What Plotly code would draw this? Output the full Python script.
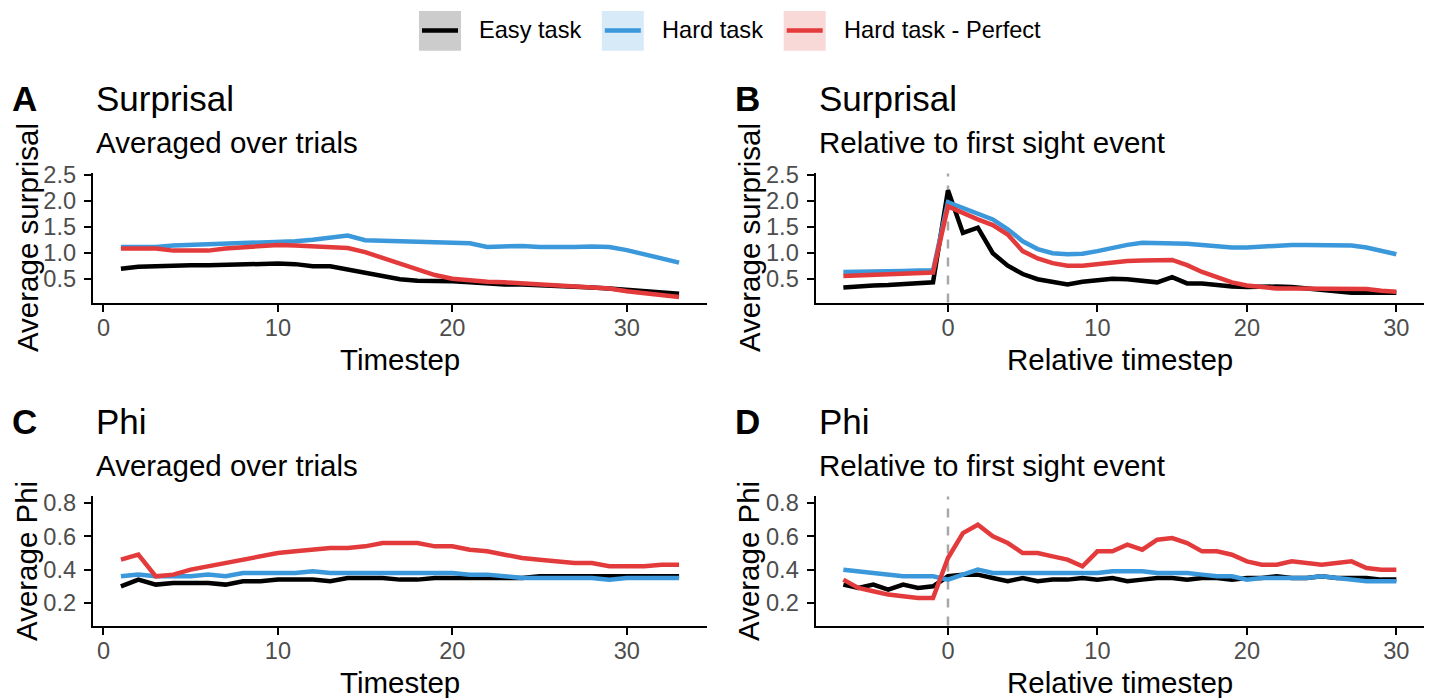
import plotly.graph_objects as go

# ---------------- data ----------------
series_names = ["Easy task", "Hard task", "Hard task - Perfect"]
series_colors = ["#000000", "#3A98DB", "#E33B3B"]
legend_key_fill = ["#CCCCCC", "#D7EAF8", "#F9D8D8"]

timestep = list(range(1, 34))
rel_timestep = list(range(-7, 31))

# Panel A: surprisal averaged over trials
surprisal_avg_easy = [0.70, 0.74, 0.75, 0.77, 0.77, 0.77, 0.78, 0.80, 0.81, 0.80,
                      0.79, 0.75, 0.75, 0.69, 0.63, 0.56, 0.50, 0.47, 0.47, 0.46,
                      0.44, 0.41, 0.40, 0.40, 0.39, 0.37, 0.36, 0.34, 0.32, 0.29,
                      0.27, 0.25, 0.22]
surprisal_avg_hard = [1.12, 1.12, 1.12, 1.15, 1.16, 1.16, 1.17, 1.18, 1.19, 1.21,
                      1.23, 1.26, 1.29, 1.34, 1.25, 1.24, 1.23, 1.21, 1.20, 1.18,
                      1.19, 1.12, 1.14, 1.14, 1.12, 1.11, 1.12, 1.13, 1.12, 1.06,
                      0.98, 0.90, 0.82]
surprisal_avg_perfect = [1.09, 1.09, 1.09, 1.05, 1.05, 1.05, 1.09, 1.12, 1.14, 1.16,
                         1.15, 1.14, 1.12, 1.10, 1.02, 0.91, 0.79, 0.68, 0.58, 0.51,
                         0.47, 0.45, 0.44, 0.42, 0.41, 0.40, 0.37, 0.35, 0.32, 0.27,
                         0.23, 0.19, 0.16]

# Panel B: surprisal relative to first sight event
surprisal_rel_easy = [0.34, 0.37, 0.38, 0.39, 0.41, 0.42, 0.44,
                      2.21, 1.39, 1.49, 1.00, 0.76, 0.60, 0.50, 0.45, 0.40, 0.45, 0.49,
                      0.51, 0.50, 0.46, 0.44, 0.54, 0.42, 0.42, 0.38, 0.36, 0.35,
                      0.36, 0.36, 0.35, 0.32, 0.30, 0.26, 0.24, 0.24, 0.24, 0.24]
surprisal_rel_hard = [0.64, 0.64, 0.65, 0.65, 0.66, 0.67, 0.67,
                      1.98, 1.87, 1.78, 1.65, 1.46, 1.23, 1.08, 1.00, 0.98, 0.99, 1.04,
                      1.11, 1.16, 1.20, 1.20, 1.20, 1.18, 1.16, 1.13, 1.11, 1.11,
                      1.13, 1.16, 1.16, 1.16, 1.16, 1.16, 1.15, 1.11, 1.04, 0.98]
surprisal_rel_perfect = [0.56, 0.57, 0.58, 0.59, 0.60, 0.61, 0.63,
                         1.90, 1.77, 1.65, 1.54, 1.36, 1.04, 0.90, 0.81, 0.76, 0.76, 0.79,
                         0.83, 0.85, 0.86, 0.87, 0.87, 0.77, 0.64, 0.54, 0.44, 0.38,
                         0.34, 0.32, 0.32, 0.32, 0.33, 0.33, 0.33, 0.31, 0.28, 0.26]

# Panel C: phi averaged over trials
phi_avg_easy = [0.30, 0.34, 0.31, 0.32, 0.32, 0.32, 0.31, 0.33, 0.33, 0.34,
                0.34, 0.34, 0.33, 0.35, 0.35, 0.35, 0.34, 0.34, 0.35, 0.35,
                0.35, 0.35, 0.35, 0.35, 0.36, 0.36, 0.36, 0.36, 0.36, 0.36,
                0.36, 0.36, 0.36]
phi_avg_hard = [0.36, 0.37, 0.36, 0.36, 0.36, 0.37, 0.36, 0.38, 0.38, 0.38,
                0.38, 0.39, 0.38, 0.38, 0.38, 0.38, 0.38, 0.38, 0.38, 0.38,
                0.37, 0.37, 0.36, 0.35, 0.35, 0.35, 0.35, 0.35, 0.34, 0.35,
                0.35, 0.35, 0.35]
phi_avg_perfect = [0.46, 0.49, 0.36, 0.37, 0.40, 0.42, 0.44, 0.46, 0.48, 0.50,
                   0.51, 0.52, 0.53, 0.53, 0.54, 0.56, 0.56, 0.56, 0.54, 0.54,
                   0.52, 0.51, 0.49, 0.47, 0.46, 0.45, 0.44, 0.44, 0.42, 0.42,
                   0.42, 0.43, 0.43]

# Panel D: phi relative to first sight event
phi_rel_easy = [0.31, 0.29, 0.31, 0.28, 0.31, 0.29, 0.30,
                0.36, 0.37, 0.37, 0.35, 0.33, 0.35, 0.33, 0.34, 0.34, 0.35, 0.34,
                0.35, 0.33, 0.34, 0.35, 0.35, 0.34, 0.35, 0.35, 0.34, 0.35,
                0.35, 0.36, 0.35, 0.35, 0.36, 0.35, 0.35, 0.35, 0.34, 0.34]
phi_rel_hard = [0.40, 0.39, 0.38, 0.37, 0.36, 0.36, 0.36,
                0.34, 0.37, 0.40, 0.38, 0.38, 0.38, 0.38, 0.38, 0.38, 0.38, 0.38,
                0.39, 0.39, 0.39, 0.38, 0.38, 0.38, 0.37, 0.36, 0.36, 0.34,
                0.35, 0.35, 0.35, 0.35, 0.36, 0.35, 0.34, 0.33, 0.33, 0.33]
phi_rel_perfect = [0.34, 0.29, 0.27, 0.25, 0.24, 0.23, 0.23,
                   0.47, 0.62, 0.67, 0.60, 0.56, 0.50, 0.50, 0.48, 0.46, 0.42, 0.51,
                   0.51, 0.55, 0.52, 0.58, 0.59, 0.56, 0.51, 0.51, 0.49, 0.45,
                   0.43, 0.43, 0.45, 0.44, 0.43, 0.44, 0.45, 0.41, 0.40, 0.40]

surprisal_ticks = [0.5, 1.0, 1.5, 2.0, 2.5]
phi_ticks = [0.2, 0.4, 0.6, 0.8]
x_ticks = [0, 10, 20, 30]

panel_tags = ["A", "B", "C", "D"]
panel_titles = ["Surprisal", "Surprisal", "Phi", "Phi"]
panel_subtitles = ["Averaged over trials", "Relative to first sight event",
                   "Averaged over trials", "Relative to first sight event"]
x_titles = ["Timestep", "Relative timestep", "Timestep", "Relative timestep"]
y_titles = ["Average surprisal", "Average surprisal", "Average Phi", "Average Phi"]

# ---------------- layout geometry ----------------
W, H = 1432, 698
FONT = "Liberation Sans, Arial, Helvetica, sans-serif"
BASE = 29.5
TICK_SIZE = 23.6
TITLE_SIZE = 35


def px(x):
    return x / W


def adj(y):
    # vertical placement correction (pixel from top)
    return (y - 9.5) / 0.9863


def py(y):
    return 1 - adj(y) / H


# panel pixel boxes: (left, right, top, bottom)
boxes = [(93, 707, 172.3, 301.7), (815.7, 1424, 172.3, 301.7),
         (93, 707, 496, 625.3), (815.7, 1424, 496, 625.3)]
x_ranges = [[-0.6, 34.6], [-8.85, 31.85], [-0.6, 34.6], [-8.85, 31.85]]
y_ranges = [[0.051, 2.533], [0.051, 2.533], [0.064, 0.840], [0.064, 0.840]]
y_tickvals = [surprisal_ticks, surprisal_ticks, phi_ticks, phi_ticks]

panel_x = [timestep, rel_timestep, timestep, rel_timestep]
panel_y = [
    [surprisal_avg_easy, surprisal_avg_hard, surprisal_avg_perfect],
    [surprisal_rel_easy, surprisal_rel_hard, surprisal_rel_perfect],
    [phi_avg_easy, phi_avg_hard, phi_avg_perfect],
    [phi_rel_easy, phi_rel_hard, phi_rel_perfect],
]

fig = go.Figure()
layout = {}
annotations = []
shapes = []

for i in range(4):
    sfx = "" if i == 0 else str(i + 1)
    xa, ya = "x" + sfx, "y" + sfx
    left, right, top, bottom = boxes[i]
    for k in range(3):
        fig.add_trace(go.Scatter(
            x=panel_x[i], y=panel_y[i][k], mode="lines",
            name=series_names[k], showlegend=False,
            line=dict(color=series_colors[k], width=4.5),
            xaxis=xa, yaxis=ya, hoverinfo="x+y+name"))
    axis_common = dict(showline=True, linecolor="black", linewidth=2.4,
                       ticks="outside", ticklen=7, tickwidth=2.4, tickcolor="black",
                       showgrid=False, zeroline=False,
                       tickfont=dict(family=FONT, size=TICK_SIZE, color="#4D4D4D"))
    layout["xaxis" + sfx] = dict(domain=[px(left), px(right)], range=x_ranges[i],
                                 anchor=ya, tickvals=x_ticks, ticklabelstandoff=-4,
                                 ticktext=[str(v) for v in x_ticks], **axis_common)
    layout["yaxis" + sfx] = dict(domain=[py(bottom), py(top)], range=y_ranges[i],
                                 anchor=xa, tickvals=y_tickvals[i], ticklabelstandoff=3,
                                 ticktext=[f"{v:.1f}" for v in y_tickvals[i]], **axis_common)
    # dashed line at first sight event for relative panels
    if i in (1, 3):
        shapes.append(dict(type="line", xref=xa, yref=ya + " domain", x0=0, x1=0,
                           y0=0, y1=1, line=dict(color="#A8A8A8", width=2.5, dash="dash"),
                           layer="below"))
    # tag, title, subtitle
    row_off = top - 172.3
    tag_x = 10 if i in (0, 2) else 733
    annotations.append(dict(text="<b>" + panel_tags[i] + "</b>", x=px(tag_x), y=py(97 + row_off),
                            xref="paper", yref="paper", xanchor="left", yanchor="middle",
                            showarrow=False, font=dict(family=FONT, size=TITLE_SIZE, color="black")))
    annotations.append(dict(text=panel_titles[i], x=px(left + 1), y=py(97 + row_off),
                            xref="paper", yref="paper", xanchor="left", yanchor="middle",
                            showarrow=False, font=dict(family=FONT, size=TITLE_SIZE, color="black")))
    annotations.append(dict(text=panel_subtitles[i], x=px(left + 1), y=py(141 + row_off),
                            xref="paper", yref="paper", xanchor="left", yanchor="middle",
                            showarrow=False, font=dict(family=FONT, size=BASE, color="black")))
    # axis titles
    annotations.append(dict(text=x_titles[i], x=px((left + right) / 2), y=py(bottom + 57),
                            xref="paper", yref="paper", xanchor="center", yanchor="middle",
                            showarrow=False, font=dict(family=FONT, size=BASE, color="black")))
    ytitle_x = 27 if i in (0, 2) else 749
    annotations.append(dict(text=y_titles[i], x=px(ytitle_x), y=py((top + bottom) / 2),
                            xref="paper", yref="paper", xanchor="center", yanchor="middle",
                            textangle=-90, showarrow=False,
                            font=dict(family=FONT, size=BASE, color="black")))

# legend (drawn manually to reproduce the shaded key boxes)
legend_box_left = [419, 601.8, 783.7]
for k in range(3):
    x0 = legend_box_left[k]
    shapes.append(dict(type="rect", xref="paper", yref="paper",
                       x0=px(x0), x1=px(x0 + 42), y0=py(49.3), y1=min(1.0, py(8.3)),
                       fillcolor=legend_key_fill[k], line=dict(width=0)))
    shapes.append(dict(type="line", xref="paper", yref="paper",
                       x0=px(x0 + 3), x1=px(x0 + 39), y0=py(29), y1=py(29),
                       line=dict(color=series_colors[k], width=4.5)))
    annotations.append(dict(text=series_names[k], x=px(x0 + 58), y=py(29),
                            xref="paper", yref="paper", xanchor="left", yanchor="middle",
                            showarrow=False, font=dict(family=FONT, size=TICK_SIZE, color="black")))

fig.update_layout(
    width=W, height=H,
    margin=dict(l=0, r=0, t=0, b=0),
    paper_bgcolor="white", plot_bgcolor="white",
    showlegend=False,
    annotations=annotations, shapes=shapes,
    font=dict(family=FONT),
    **layout)

fig.write_html("out.html",
               post_script="document.body.style.margin='0px';document.body.style.padding='0px';")
